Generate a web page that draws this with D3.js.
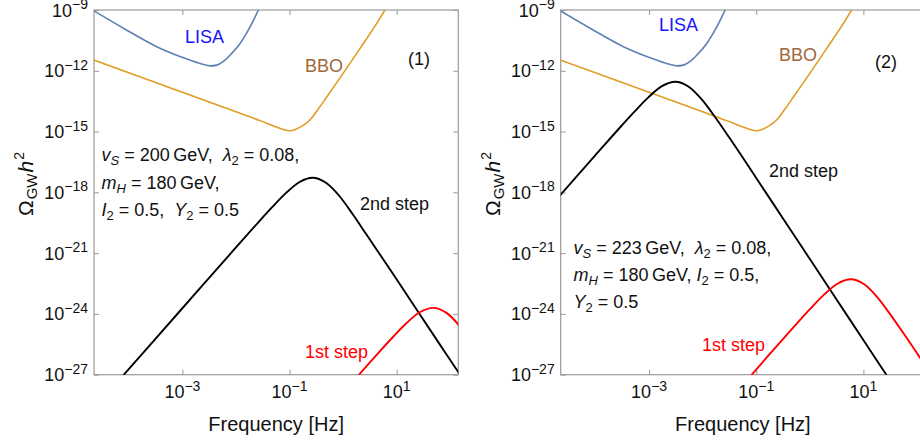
<!DOCTYPE html>
<html><head><meta charset="utf-8">
<script src="https://cdn.jsdelivr.net/npm/d3@7"></script>
<style>
body{margin:0;background:#fff}
svg{display:block}
text{font-family:"Liberation Sans",Arial,Helvetica,sans-serif;fill:#111;white-space:pre}
</style>
</head><body>
<svg id="c" width="920" height="441"></svg>
<script>
// ---- tick labels (exponents of 10) ----
const xTickExps = [-3, -1, 1];
const yTickExps = [-9, -12, -15, -18, -21, -24, -27];
const xDomainExp = [-4.65, 2.15];
const yDomainExp = [-27, -9];

// ---- detector sensitivity curves (log10 f [Hz], log10 Omega h^2) ----
const lisaLogF     = [-4.66, -4.10, -3.48, -2.86, -2.62, -2.48, -2.36, -2.24, -2.10, -1.92, -1.75, -1.58, -1.50];
const lisaLogOmega = [-9.03, -9.90, -10.81, -11.47, -11.68, -11.76, -11.72, -11.55, -11.20, -10.64, -9.90, -9.00, -8.58];

const bboLogF     = [-4.70, -3.50, -2.86, -2.00, -1.55, -1.25, -1.10, -1.00, -0.88, -0.76, -0.62, -0.45, -0.30, 0.00, 0.32, 0.63, 0.78, 0.90];
const bboLogOmega = [-11.43, -12.58, -13.20, -14.02, -14.46, -14.77, -14.91, -14.96, -14.88, -14.72, -14.43, -13.84, -13.27, -12.13, -10.88, -9.65, -9.00, -8.50];

// ---- panel (1): v_S = 200 GeV ----
const p1Step2LogF     = [-4.20, -3.07, -2.07, -1.57, -1.32, -1.07, -0.82, -0.57, -0.32, -0.07, 0.18, 0.43, 0.93, 1.43, 1.93, 2.20];
const p1Step2LogOmega = [-27.32, -23.93, -20.93, -19.44, -18.72, -18.04, -17.50, -17.28, -17.53, -18.18, -19.08, -20.06, -22.02, -24.02, -26.00, -27.07];
const p1Step1LogF     = [0.28, 0.68, 0.93, 1.18, 1.43, 1.68, 1.93, 2.20];
const p1Step1LogOmega = [-27.05, -25.86, -25.14, -24.46, -23.92, -23.70, -23.95, -24.67];

// ---- panel (2): v_S = 223 GeV ----
const p2Step2LogF     = [-4.70, -4.01, -3.51, -3.26, -3.01, -2.76, -2.51, -2.26, -2.01, -1.76, -1.51, -1.01, -0.51, -0.01, 0.49, 0.99, 1.50];
const p2Step2LogOmega = [-18.26, -16.19, -14.70, -13.98, -13.30, -12.76, -12.54, -12.79, -13.44, -14.32, -15.27, -17.25, -19.25, -21.25, -23.25, -25.25, -27.29];
const p2Step1LogF     = [-1.14, -0.735, -0.235, 0.015, 0.265, 0.515, 0.765, 1.015, 1.265, 1.515, 1.765, 2.20];
const p2Step1LogOmega = [-27.17, -25.94, -24.45, -23.73, -23.05, -22.51, -22.29, -22.54, -23.19, -24.07, -25.02, -26.73];

const zip = (a, b) => a.map((v, i) => [v, b[i]]);

const svg = d3.select('#c');
const W = 364.3, plotTop = 10, plotBottom = 374.7;
const frameColor = '#9a9a9a';

const panels = [
  {
    id: 'p1', left: 94, tag: '(1)', tagPos: [408, 65],
    step2: zip(p1Step2LogF, p1Step2LogOmega), step1: zip(p1Step1LogF, p1Step1LogOmega),
    lisaPos: [185, 43], bboPos: [305, 71.5],
    step2Pos: [360, 210], step1Pos: [305, 358],
    params: [
      {y: 161, parts: [['v','i'],['S','si'],[' = 200\u2009GeV,  ',''],['\u03bb','i'],['2','s'],[' = 0.08,','']]},
      {y: 188.5, parts: [['m','i'],['H','si'],[' = 180\u2009GeV,','']]},
      {y: 216, parts: [['I','i'],['2','s'],[' = 0.5,  ',''],['Y','i'],['2','s'],[' = 0.5','']]}
    ],
    paramX: 101.5
  },
  {
    id: 'p2', left: 560.7, tag: '(2)', tagPos: [875, 68],
    step2: zip(p2Step2LogF, p2Step2LogOmega), step1: zip(p2Step1LogF, p2Step1LogOmega),
    lisaPos: [659, 30.7], bboPos: [779, 60.7],
    step2Pos: [769, 177], step1Pos: [702, 351],
    params: [
      {y: 253.5, parts: [['v','i'],['S','si'],[' = 223\u2009GeV,  ',''],['\u03bb','i'],['2','s'],[' = 0.08,','']]},
      {y: 280.5, parts: [['m','i'],['H','si'],[' = 180\u2009GeV, ',''],['I','i'],['2','s'],[' = 0.5,','']]},
      {y: 307.5, parts: [['Y','i'],['2','s'],[' = 0.5','']]}
    ],
    paramX: 573.5
  }
];

panels.forEach(p => {
  const x0 = p.left, x1 = p.left + W;
  const x = d3.scaleLog().domain(xDomainExp.map(e => 10 ** e)).range([x0, x1]);
  const y = d3.scaleLog().domain(yDomainExp.map(e => 10 ** e)).range([plotBottom, plotTop]);
  const g = svg.append('g');

  g.append('clipPath').attr('id', 'clip-' + p.id)
    .append('rect').attr('x', x0).attr('y', plotTop).attr('width', W).attr('height', plotBottom - plotTop);

  // ticks (inward) on all four sides
  const xVals = xTickExps.map(e => 10 ** e), yVals = yTickExps.map(e => 10 ** e);
  const axes = [
    [d3.axisBottom(x).tickValues(xVals), `translate(0,${plotBottom})`],
    [d3.axisTop(x).tickValues(xVals), `translate(0,${plotTop})`],
    [d3.axisLeft(y).tickValues(yVals), `translate(${x0},0)`],
    [d3.axisRight(y).tickValues(yVals), `translate(${x1},0)`]
  ];
  axes.forEach(([ax, tr]) => {
    const a = g.append('g').attr('transform', tr)
      .call(ax.tickSize(-5).tickSizeOuter(0).tickFormat(''));
    a.select('.domain').remove();
    a.selectAll('.tick line').attr('stroke', frameColor).attr('stroke-width', 1);
  });

  // frame
  g.append('rect').attr('x', x0).attr('y', plotTop).attr('width', W).attr('height', plotBottom - plotTop)
    .attr('fill', 'none').attr('stroke', frameColor).attr('stroke-width', 1.2);

  // tick labels
  g.selectAll('.xl').data(xTickExps).join('text').attr('class', 'xl')
    .attr('x', d => x(10 ** d)).attr('y', 398).attr('text-anchor', 'middle').attr('font-size', 18)
    .each(function(d) {
      const t = d3.select(this);
      t.append('tspan').text('10');
      t.append('tspan').attr('font-size', 14).attr('dy', -7.5).text(d < 0 ? '\u2212' + (-d) : d);
    });
  g.selectAll('.yl').data(yTickExps).join('text').attr('class', 'yl')
    .attr('x', x0 - 6).attr('y', d => y(10 ** d) + 6.5).attr('text-anchor', 'end').attr('font-size', 18)
    .each(function(d) {
      const t = d3.select(this);
      t.append('tspan').text('10');
      t.append('tspan').attr('font-size', 14).attr('dy', -7.5).text('\u2212' + (-d));
    });

  // axis titles
  g.append('text').attr('x', (x0 + x1) / 2).attr('y', 431).attr('text-anchor', 'middle')
    .attr('font-size', 20).text('Frequency [Hz]');
  const yt = g.append('text').attr('transform', `translate(${x0 - 61},184) rotate(-90)`)
    .attr('text-anchor', 'middle').attr('font-size', 21);
  yt.append('tspan').text('\u03a9');
  yt.append('tspan').attr('font-size', 15).attr('dy', 4).attr('dx', 1).text('GW');
  yt.append('tspan').attr('font-style', 'italic').attr('dy', -4).attr('dx', 1).text('h');
  yt.append('tspan').attr('font-size', 14).attr('dy', -9).attr('dx', 1).text('2');

  // curves
  const line = d3.line().x(d => x(10 ** d[0])).y(d => y(10 ** d[1])).curve(d3.curveMonotoneX);
  const cg = g.append('g').attr('clip-path', `url(#clip-${p.id})`);
  cg.append('path').datum(zip(lisaLogF, lisaLogOmega)).attr('d', line)
    .attr('fill', 'none').attr('stroke', '#5E81B5').attr('stroke-width', 1.6);
  cg.append('path').datum(zip(bboLogF, bboLogOmega)).attr('d', line)
    .attr('fill', 'none').attr('stroke', '#E19C24').attr('stroke-width', 1.6);
  cg.append('path').datum(p.step2).attr('d', line)
    .attr('fill', 'none').attr('stroke', '#000').attr('stroke-width', 1.9);
  cg.append('path').datum(p.step1).attr('d', line)
    .attr('fill', 'none').attr('stroke', '#ff0000').attr('stroke-width', 1.9);

  // annotations
  g.append('text').attr('x', p.lisaPos[0]).attr('y', p.lisaPos[1]).attr('font-size', 18)
    .style('fill', '#1414ff').text('LISA');
  g.append('text').attr('x', p.bboPos[0]).attr('y', p.bboPos[1]).attr('font-size', 18)
    .style('fill', '#a0693a').text('BBO');
  g.append('text').attr('x', p.tagPos[0]).attr('y', p.tagPos[1]).attr('font-size', 18).text(p.tag);
  g.append('text').attr('x', p.step2Pos[0]).attr('y', p.step2Pos[1]).attr('font-size', 18).text('2nd step');
  g.append('text').attr('x', p.step1Pos[0]).attr('y', p.step1Pos[1]).attr('font-size', 18)
    .style('fill', '#ff0000').text('1st step');

  p.params.forEach(line => {
    const t = g.append('text').attr('x', p.paramX).attr('y', line.y).attr('font-size', 18)
      .attr('xml:space', 'preserve');
    let shift = 0;
    line.parts.forEach(([s, st]) => {
      const ts = t.append('tspan').text(s);
      const isSub = st.includes('s');
      if (st.includes('i')) ts.attr('font-style', 'italic');
      const want = isSub ? 4 : 0;
      if (want !== shift) { ts.attr('dy', want - shift); shift = want; }
      if (isSub) ts.attr('font-size', 13);
    });
  });
});
</script>
</body></html>
